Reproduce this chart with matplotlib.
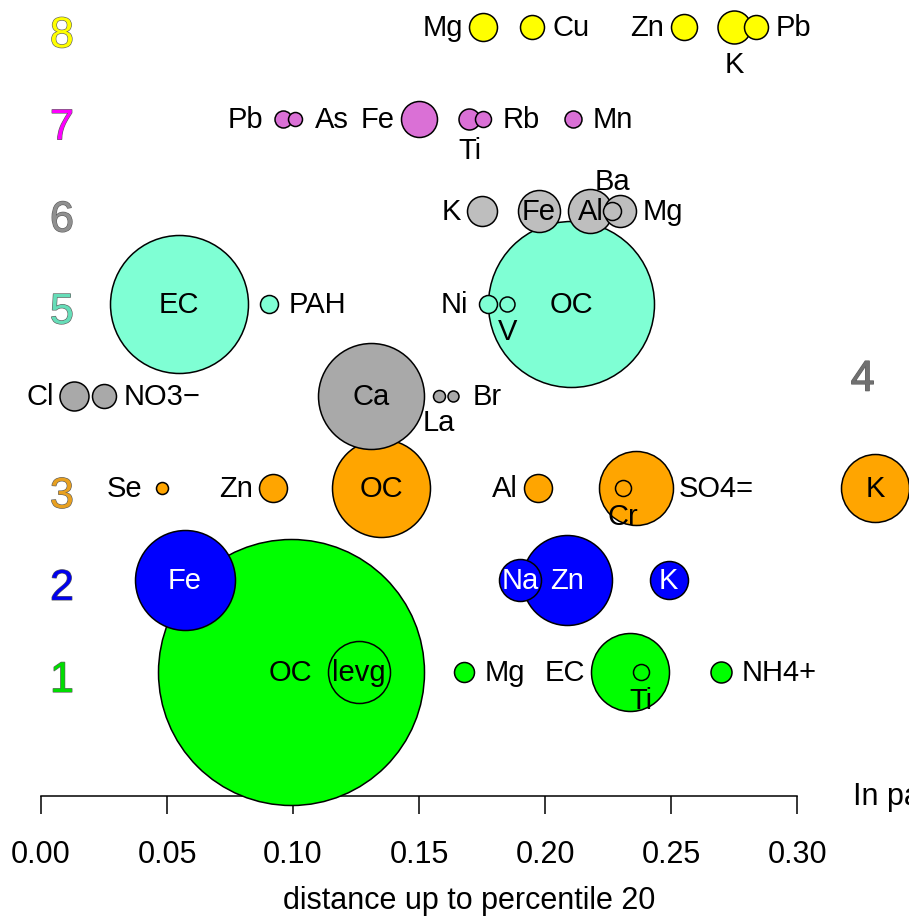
import matplotlib
matplotlib.use("Agg")
import matplotlib.pyplot as plt
import matplotlib.patheffects as pe
import matplotlib.transforms as mtransforms
import numpy as np

plt.rcParams['font.family'] = ['Liberation Sans', 'DejaVu Sans']

# ---------------- data ----------------
row_ids = [1, 2, 3, 4, 5, 6, 7, 8]
row_fill = ['#00FF00', '#0000FF', '#FFA500', '#A9A9A9', '#7FFFD4', '#BEBEBE', '#DA70D6', '#FFFF00']
row_label_colors = ['#00DD00', '#0000EE', '#E8A020', '#707070', '#66DDB8', '#909090', '#FF00FF', '#FFFF00']
row_text_colors = ['black', 'white', 'black', 'black', 'black', 'black', 'black', 'black']

row1_names = ['OC', 'levg', 'Mg', 'EC', 'Ti', 'NH4+']
row1_x = [0.099, 0.126, 0.168, 0.2337, 0.238, 0.270]
row1_size = [13.3, 3.1, 1.0, 3.9, 0.8, 1.05]
row1_pos = ['c', 'c', 'r', 'l', 'b', 'r']

row2_names = ['Fe', 'Na', 'Zn', 'K']
row2_x = [0.057, 0.190, 0.2087, 0.249]
row2_size = [5.0, 2.1, 4.5, 1.9]
row2_pos = ['c', 'c', 'c', 'c']

row3_names = ['Se', 'Zn', 'OC', 'Al', 'SO4=', 'Cr', 'K']
row3_x = [0.048, 0.092, 0.135, 0.197, 0.236, 0.231, 0.331]
row3_size = [0.6, 1.4, 4.9, 1.4, 3.7, 0.8, 3.4]
row3_pos = ['l', 'l', 'c', 'l', 'r', 'b', 'c']

row4_names = ['Cl', 'NO3\u2212', 'Ca', 'La', 'Br']
row4_x = [0.0131, 0.025, 0.131, 0.158, 0.1635]
row4_size = [1.45, 1.2, 5.3, 0.6, 0.55]
row4_pos = ['l', 'r', 'c', 'b', 'r']

row5_names = ['EC', 'PAH', 'Ni', 'V', 'OC']
row5_x = [0.0548, 0.0905, 0.1774, 0.185, 0.2103]
row5_size = [6.9, 0.9, 0.9, 0.75, 8.3]
row5_pos = ['c', 'r', 'l', 'b', 'c']

row6_names = ['K', 'Fe', 'Al', 'Mg', 'Ba']
row6_x = [0.175, 0.1976, 0.218, 0.2298, 0.2266]
row6_size = [1.5, 2.1, 2.2, 1.6, 0.9]
row6_pos = ['l', 'c', 'c', 'r', 't']

row7_names = ['Pb', 'As', 'Fe', 'Ti', 'Rb', 'Mn']
row7_x = [0.096, 0.1008, 0.150, 0.170, 0.1754, 0.211]
row7_size = [0.85, 0.7, 1.8, 1.05, 0.8, 0.85]
row7_pos = ['l', 'r', 'l', 'b', 'r', 'r']

row8_names = ['Mg', 'Cu', 'Zn', 'K', 'Pb']
row8_x = [0.1754, 0.195, 0.2552, 0.275, 0.2837]
row8_size = [1.4, 1.2, 1.3, 1.65, 1.2]
row8_pos = ['l', 'r', 'l', 'b', 'r']

rows_names = [row1_names, row2_names, row3_names, row4_names, row5_names, row6_names, row7_names, row8_names]
rows_x = [row1_x, row2_x, row3_x, row4_x, row5_x, row6_x, row7_x, row8_x]
rows_size = [row1_size, row2_size, row3_size, row4_size, row5_size, row6_size, row7_size, row8_size]
rows_pos = [row1_pos, row2_pos, row3_pos, row4_pos, row5_pos, row6_pos, row7_pos, row8_pos]

x_ticks = [0.00, 0.05, 0.10, 0.15, 0.20, 0.25, 0.30]
x_tick_labels = ['0.00', '0.05', '0.10', '0.15', '0.20', '0.25', '0.30']
x_label = 'distance up to percentile 20'
side_note = 'In pa'

# ---------------- figure ----------------
DPI = 100
fig = plt.figure(figsize=(9.09, 9.20), dpi=DPI)
ax = fig.add_axes([0, 0, 1, 1])
ax.set_xlim(-0.01627, 0.3444)
ax.set_ylim(-1.682, 8.307)

PX2PT = 72.0 / DPI
RADIUS_PX = 10.0   # pixel radius per size unit
LABEL_FS = 21

z = 3
for k, rid in enumerate(row_ids):
    names = rows_names[k]
    xs = np.array(rows_x[k])
    sz = np.array(rows_size[k])
    order = np.argsort(-sz, kind='stable')
    for i in order:
        r_px = sz[i] * RADIUS_PX
        s = (2 * r_px * PX2PT) ** 2
        ax.scatter([xs[i]], [rid], s=s, c=row_fill[k], edgecolors='black',
                   linewidths=1.1, zorder=z, clip_on=False)
        z += 1
    for i in range(len(names)):
        r_px = sz[i] * RADIUS_PX
        p = rows_pos[k][i]
        if p == 'c':
            off, ha, va = (0, 0), 'center', 'center'
        elif p == 'l':
            off, ha, va = (-max(r_px + 6, 20), 0), 'right', 'center'
        elif p == 'r':
            off, ha, va = (max(r_px + 6, 20), 0), 'left', 'center'
        elif p == 'b':
            off, ha, va = (0, -max(r_px + 20, 25)), 'center', 'center'
        else:
            off, ha, va = (0, max(r_px + 20, 30)), 'center', 'center'
        ax.annotate(names[i], (xs[i], rid),
                    xytext=(off[0] * PX2PT, off[1] * PX2PT), textcoords='offset points',
                    ha=ha, va=va, fontsize=LABEL_FS, color=row_text_colors[k],
                    zorder=200, annotation_clip=False)

# row numbers (drawn with a thin grey outline)
outline = [pe.Stroke(linewidth=0.9, foreground='#606060'), pe.Normal()]
for k, rid in enumerate(row_ids):
    if rid == 4:
        ax.text(0.326, rid, str(rid), fontsize=31, color=row_label_colors[k],
                ha='center', va='center', path_effects=outline, zorder=250,
                transform=ax.transData + mtransforms.ScaledTranslation(0, 16 / DPI, fig.dpi_scale_trans))
    else:
        ax.text(0.0083, rid, str(rid), fontsize=31, color=row_label_colors[k],
                ha='center', va='center', path_effects=outline, zorder=250,
                transform=ax.transData + mtransforms.ScaledTranslation(0, -9 / DPI, fig.dpi_scale_trans))

# axis styling
for sp in ['left', 'right', 'top']:
    ax.spines[sp].set_visible(False)
ax.spines['bottom'].set_position(('data', -0.346))
ax.spines['bottom'].set_bounds(x_ticks[0], x_ticks[-1])
ax.spines['bottom'].set_linewidth(1.1)
ax.spines['bottom'].set_zorder(1)
ax.set_xticks(x_ticks)
ax.set_xticklabels(x_tick_labels)
ax.set_yticks([])
ax.tick_params(axis='x', direction='out', length=13, width=1.1, labelsize=22, pad=18)
ax.set_xlabel(x_label, fontsize=22)
ax.xaxis.set_label_coords(0.516, 0.037)
ax.patch.set_visible(False)

fig.text(853 / 909, 1 - 797 / 920, side_note, fontsize=22, ha='left', va='center')

fig.savefig('out.png', dpi=DPI)
